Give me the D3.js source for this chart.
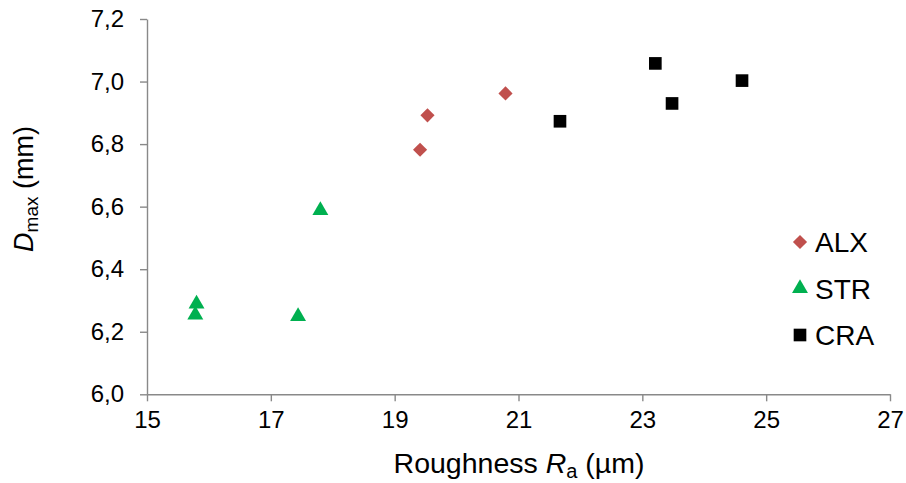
<!DOCTYPE html>
<html><head><meta charset="utf-8">
<script src="https://cdn.jsdelivr.net/npm/d3@7"></script>
<style>body{margin:0;background:#fff}text{font-family:"Liberation Sans",Arial,sans-serif;fill:#000}</style>
</head><body>
<svg id="c" width="906" height="483"></svg>
<script>
const alxX = [19.41, 19.53, 20.79];
const alxY = [6.782, 6.892, 6.962];
const strX = [17.80, 15.80, 15.78, 17.44];
const strY = [6.588, 6.289, 6.254, 6.249];
const craX = [21.67, 23.21, 23.48, 24.61];
const craY = [6.873, 7.058, 6.930, 7.003];
const xTicks = [15, 17, 19, 21, 23, 25, 27];
const yTicks = [6.0, 6.2, 6.4, 6.6, 6.8, 7.0, 7.2];
const seriesNames = ["ALX", "STR", "CRA"];

const svg = d3.select("#c");
const x = d3.scaleLinear().domain([15, 27]).range([147, 890]);
const y = d3.scaleLinear().domain([6, 7.2]).range([394.3, 19]);
const axisColor = "#898989";

const xa = svg.append("g").attr("transform", "translate(0,394.3)")
  .call(d3.axisBottom(x).tickValues(xTicks).tickSize(7).tickSizeOuter(0).tickPadding(10).tickFormat(d3.format("d")));
const ya = svg.append("g").attr("transform", "translate(147,0)")
  .call(d3.axisLeft(y).tickValues(yTicks).tickSize(7).tickSizeOuter(0).tickPadding(16).tickFormat(d => d3.format(".1f")(d).replace(".", ",")));
[xa, ya].forEach(a => {
  a.selectAll("path.domain").attr("stroke", axisColor).attr("stroke-width", 1.4);
  a.selectAll(".tick line").attr("stroke", axisColor).attr("stroke-width", 1.4);
  a.selectAll(".tick text").style("font-size", "24px").attr("fill", "#000").style("font-family", '"Liberation Sans",Arial,sans-serif');
});

// markers
const shapes = {
  ALX: {color: "#C0504D", path: d3.symbol().type(d3.symbolSquare).size(100)(), rot: 45},
  STR: {color: "#00B050", path: d3.symbol().type(d3.symbolTriangle).size(110)(), rot: 0},
  CRA: {color: "#000000", path: d3.symbol().type(d3.symbolSquare).size(160)(), rot: 0}
};
const data = {ALX: [alxX, alxY], STR: [strX, strY], CRA: [craX, craY]};
seriesNames.forEach(n => {
  const [xs, ys] = data[n];
  svg.append("g").selectAll("path").data(xs.map((v, i) => [v, ys[i]])).join("path")
    .attr("d", shapes[n].path)
    .attr("transform", d => `translate(${x(d[0])},${y(d[1])}) rotate(${shapes[n].rot})`)
    .attr("fill", shapes[n].color);
});

// legend
const lg = svg.append("g");
seriesNames.forEach((n, i) => {
  const cy = 242 + i * 46.5;
  lg.append("path").attr("d", shapes[n].path)
    .attr("transform", `translate(800,${cy}) rotate(${shapes[n].rot})`)
    .attr("fill", shapes[n].color);
  lg.append("text").attr("x", 815).attr("y", cy).attr("dy", "0.36em")
    .style("font-size", "28px").text(n);
});

// x title
const xt = svg.append("text").attr("x", 519).attr("y", 472.5).attr("text-anchor", "middle").style("font-size", "28.5px");
xt.append("tspan").text("Roughness ");
xt.append("tspan").style("font-style", "italic").text("R");
xt.append("tspan").style("font-size", "20px").attr("dy", "5").text("a");
xt.append("tspan").attr("dy", "-5").text(" (µm)");

// y title
const yt = svg.append("text").attr("transform", "translate(33,189) rotate(-90)").attr("text-anchor", "middle").style("font-size", "27px");
yt.append("tspan").style("font-style", "italic").text("D");
yt.append("tspan").style("font-size", "19px").attr("dy", "5").text("max");
yt.append("tspan").attr("dy", "-5").text(" (mm)");
</script>
</body></html>
